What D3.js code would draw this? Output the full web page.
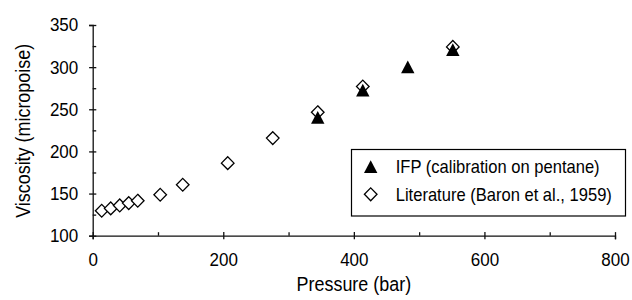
<!DOCTYPE html>
<html>
<head>
<meta charset="utf-8">
<script src="https://cdn.jsdelivr.net/npm/d3@7"></script>
<style>
  body { margin: 0; background: #fff; }
  text { font-family: "Liberation Sans", Arial, Helvetica, sans-serif; fill: #000; }
</style>
</head>
<body>
<div id="chart"></div>
<script>
// pressure in bar, viscosity in micropoise
const litPressure = [13.8, 27.6, 41.4, 55.2, 69.0, 103.4, 137.9, 206.8, 275.8, 344.7, 413.7, 551.6];
const litViscosity = [129.6, 132.4, 135.9, 138.7, 141.5, 148.6, 160.4, 186.1, 215.8, 246.5, 277.0, 324.0];
const ifpPressure = [344.7, 413.7, 482.6, 551.6];
const ifpViscosity = [240.2, 272.6, 300.2, 320.7];

const xMajor = [0, 200, 400, 600, 800];
const xMinor = [100, 300, 500, 700];
const yMajor = [100, 150, 200, 250, 300, 350];
const yMinor = [125, 175, 225, 275, 325];

const seriesNames = ["IFP (calibration on pentane)", "Literature (Baron et al., 1959)"];

const svgWidth = 632;
const svgHeight = 300;
const margin = { top: 25, right: 17, bottom: 64.3, left: 92.7 };
const width = svgWidth - margin.left - margin.right;
const height = svgHeight - margin.top - margin.bottom;

// the original type is a bit narrow, squeeze it horizontally
const squeeze = 0.92;

const svg = d3.select("#chart").append("svg")
    .attr("width", svgWidth).attr("height", svgHeight);

const g = svg.append("g")
    .attr("transform", `translate(${margin.left},${margin.top})`);

const x = d3.scaleLinear().domain([0, 800]).range([0, width]);
const y = d3.scaleLinear().domain([100, 350]).range([height, 0]);

const tri = "M0,-6.5L6.7,6.2L-6.7,6.2Z";
const diamond = "M0,-6.4L6.3,0L0,6.4L-6.3,0Z";

// X axis - major ticks cross the line, minor ticks inside
const xAxis = g.append("g")
    .attr("transform", `translate(0,${height})`)
    .call(d3.axisBottom(x).tickValues(xMajor).tickSize(3.6).tickFormat(d3.format("d")));
xAxis.selectAll(".tick line").attr("y1", -3.6);
xAxis.selectAll(".tick text")
    .attr("y", 0).attr("dy", "0.71em")
    .attr("transform", `translate(0,17.3) scale(${squeeze},1)`)
    .style("font-size", "18.5px");

g.append("g")
    .attr("transform", `translate(0,${height})`)
    .call(d3.axisTop(x).tickValues(xMinor).tickSize(3.5).tickFormat(""))
    .call(a => a.select(".domain").remove());

// Y axis
const yAxis = g.append("g")
    .call(d3.axisLeft(y).tickValues(yMajor).tickSize(3.6));
yAxis.selectAll(".tick line").attr("x1", 3.6);
yAxis.selectAll(".tick text")
    .attr("x", 0)
    .attr("transform", `translate(-14.4,0) scale(${squeeze},1)`)
    .style("font-size", "18.5px");

g.append("g")
    .call(d3.axisRight(y).tickValues(yMinor).tickSize(3.5).tickFormat(""))
    .call(a => a.select(".domain").remove());

g.selectAll(".domain, .tick line").attr("stroke", "#111").attr("stroke-width", 1.3);
g.selectAll(".tick text").attr("font-family", null);

// axis titles
svg.append("text")
    .attr("transform", `translate(${margin.left + x(400)},291) scale(${squeeze},1)`)
    .attr("text-anchor", "middle")
    .style("font-size", "19.5px")
    .text("Pressure (bar)");

svg.append("text")
    .attr("transform", `translate(30,${(41.7 + 220) / 2}) rotate(-90) scale(${squeeze},1)`)
    .attr("text-anchor", "middle")
    .style("font-size", "19.5px")
    .text("Viscosity (micropoise)");

// literature points (drawn first, IFP triangles sit on top)
const lit = litPressure.map((p, i) => ({ p: p, v: litViscosity[i] }));
const ifp = ifpPressure.map((p, i) => ({ p: p, v: ifpViscosity[i] }));

g.selectAll(".lit")
    .data(lit)
    .enter().append("path")
    .attr("class", "lit")
    .attr("d", diamond)
    .attr("transform", d => `translate(${x(d.p)},${y(d.v)})`)
    .attr("fill", "#fff").attr("stroke", "#000").attr("stroke-width", 1.3);

g.selectAll(".ifp")
    .data(ifp)
    .enter().append("path")
    .attr("class", "ifp")
    .attr("d", tri)
    .attr("transform", d => `translate(${x(d.p)},${y(d.v)})`)
    .attr("fill", "#000");

// legend
const legend = svg.append("g");
legend.append("rect")
    .attr("x", 351.5).attr("y", 149.5).attr("width", 274).attr("height", 66.5)
    .attr("fill", "#fff").attr("stroke", "#000").attr("stroke-width", 1.2);

const rows = [
    { name: seriesNames[0], shape: tri, fill: "#000", y: 166.7 },
    { name: seriesNames[1], shape: diamond, fill: "#fff", y: 194.3 }
];
rows.forEach(r => {
    legend.append("path")
        .attr("d", r.shape)
        .attr("transform", `translate(370.7,${r.y})`)
        .attr("fill", r.fill).attr("stroke", r.fill === "#fff" ? "#000" : "none")
        .attr("stroke-width", 1.3);
    legend.append("text")
        .attr("transform", `translate(395.7,${r.y}) scale(${squeeze},1)`)
        .attr("dy", "0.36em")
        .style("font-size", "18px")
        .text(r.name);
});
</script>
</body>
</html>
